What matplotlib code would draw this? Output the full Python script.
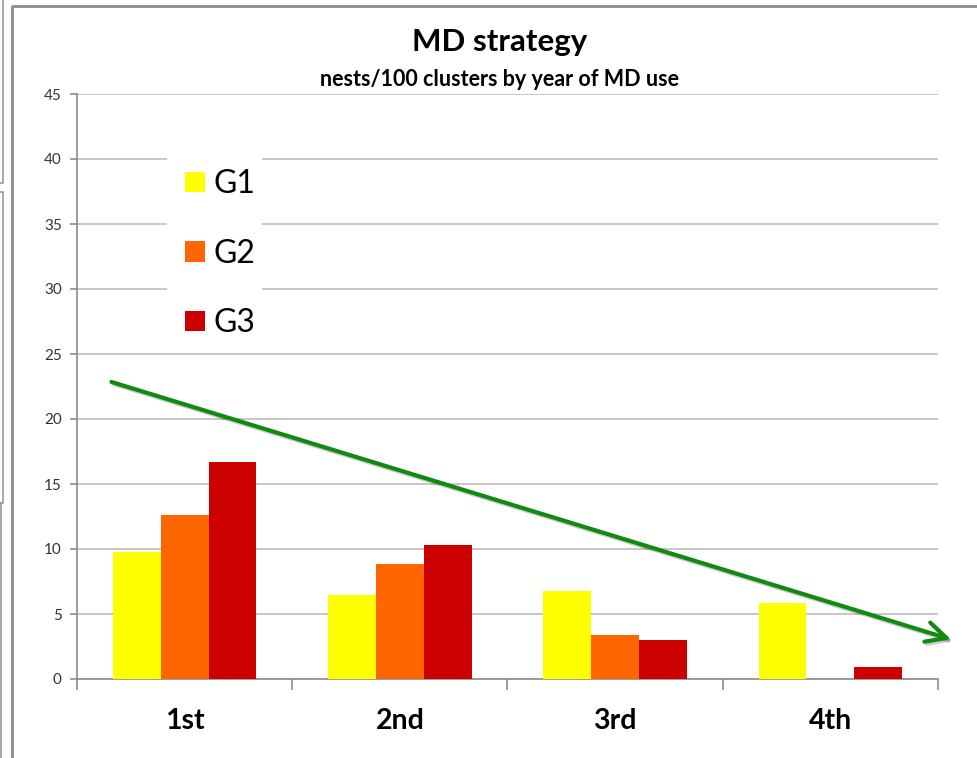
import numpy as np
import matplotlib
matplotlib.use("Agg")
import matplotlib.pyplot as plt
from matplotlib.lines import Line2D
from matplotlib.patches import Rectangle
import matplotlib.patheffects as pe

plt.rcParams["font.family"] = ["Lato", "DejaVu Sans"]

# data
categories = ["1st", "2nd", "3rd", "4th"]
groups = ["G1", "G2", "G3"]
g1 = [9.8, 6.5, 6.8, 5.85]
g2 = [12.6, 8.85, 3.4, 0.0]
g3 = [16.7, 10.3, 3.0, 0.9]
y_ticks = [0, 5, 10, 15, 20, 25, 30, 35, 40, 45]

# trend arrow (annotation), in category / value units
arrow_start = (-0.34, 22.85)
arrow_end = (3.56, 3.05)

colors = ["#FFFF00", "#FF6600", "#CC0000"]

W, H = 978, 758
fig = plt.figure(figsize=(W / 100, H / 100), dpi=100)


def px(x, y):
    # pixel (from top-left) -> figure fraction
    return x / W, 1 - y / H


# axes box: x 77..938 px, y 94..679 px
l, t = px(77, 94)
r, b = px(938, 679)
ax = fig.add_axes([l, b, r - l, t - b])

x = np.arange(len(categories))
bw = 0.222
for i, (vals, name) in enumerate(zip([g1, g2, g3], groups)):
    ax.bar(x + (i - 1) * bw, vals, width=bw, color=colors[i], label=name, zorder=3)

ax.set_xlim(-0.5, len(categories) - 0.5)
ax.set_ylim(0, 45)
ax.set_yticks(y_ticks)
ax.yaxis.grid(True, color="#BEBEBE", lw=1.2, zorder=0)
ax.set_axisbelow(True)

for s in ["top", "right"]:
    ax.spines[s].set_visible(False)
for s in ["left", "bottom"]:
    ax.spines[s].set_color("#8C8C8C")
    ax.spines[s].set_linewidth(1.2)

ax.tick_params(axis="y", length=5, color="#8C8C8C", width=1.2, pad=6,
               labelsize=11, labelcolor="#333333")

# category boundaries as major ticks, labels at centres on minor ticks
ax.set_xticks(np.arange(-0.5, len(categories), 1.0))
ax.set_xticklabels([])
ax.tick_params(axis="x", which="major", length=8, color="#8C8C8C", width=1.2)
ax.set_xticks(x, minor=True)
ax.set_xticklabels(categories, minor=True, fontsize=20.5, fontweight="bold")
ax.tick_params(axis="x", which="minor", length=0, pad=21)

# titles
fig.text(*px(500, 42), "MD strategy", ha="center", va="center",
         fontsize=22.5, fontweight="bold")
fig.text(*px(500, 79), "nests/100 clusters by year of MD use", ha="center",
         va="center", fontsize=15.5, fontweight="bold")

# legend: white box behind it hides the gridlines it sits on
lx0, ly0 = px(167, 345)
lx1, ly1 = px(262, 150)
ax.add_patch(Rectangle((lx0, ly0), lx1 - lx0, ly1 - ly0, transform=fig.transFigure,
                       facecolor="white", edgecolor="none", zorder=1))
leg = ax.legend(loc="upper left", bbox_to_anchor=px(166, 150), bbox_transform=fig.transFigure,
                fontsize=23, frameon=False, handlelength=0.62, handleheight=0.62,
                handletextpad=0.28, labelspacing=1.24, borderpad=0.6, borderaxespad=0)
leg.set_zorder(4)

# trend arrow
ax.annotate("", xy=arrow_end, xytext=arrow_start,
            arrowprops=dict(arrowstyle="->,head_length=0.9,head_width=0.45",
                            color="#108A10", lw=3, mutation_scale=16, shrinkA=0, shrinkB=0,
                            path_effects=[pe.SimpleLineShadow(offset=(1.5, -1.5), alpha=0.2),
                                          pe.Normal()]),
            annotation_clip=False, zorder=5)

# chart frame and screenshot edges
def fline(xs, ys, color="#8C8C8C", lw=1.5):
    fx = [xx / W for xx in xs]
    fy = [1 - yy / H for yy in ys]
    fig.add_artist(Line2D(fx, fy, color=color, lw=lw))

fline([12.5, 12.5, 978], [758, 5.5, 5.5], lw=2)
fline([2.5, 2.5, 0], [0, 183, 183], color="#999999", lw=1.2)
fline([0, 2.5, 2.5, 0], [192, 192, 503, 503], color="#999999", lw=1.2)
fline([0.6, 0.6], [503, 758], color="#999999", lw=1.2)

fig.savefig("out.png", dpi=100)
